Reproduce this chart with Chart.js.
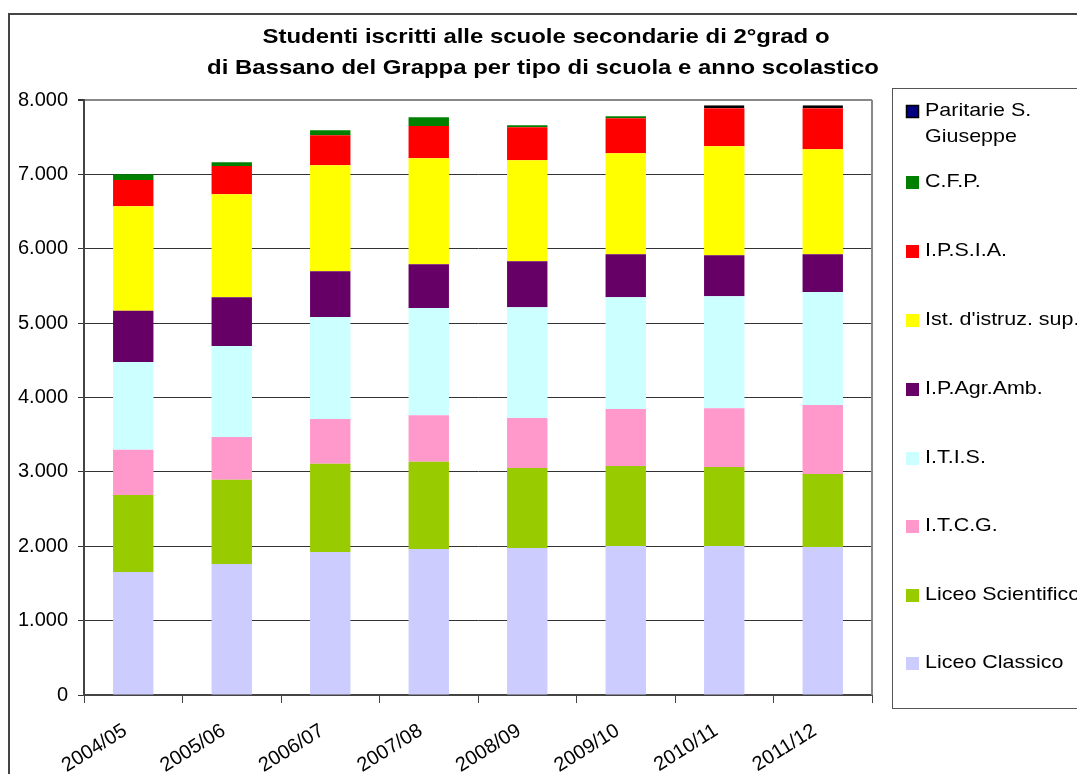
<!DOCTYPE html>
<html>
<head>
<meta charset="utf-8">
<script src="https://cdn.jsdelivr.net/npm/chart.js@4/dist/chart.umd.min.js"></script>
<style>
  body { margin: 0; background: #fff; }
</style>
</head>
<body>
<canvas id="myChart" width="1077" height="774"></canvas>
<script>
const years = ['2004/05', '2005/06', '2006/07', '2007/08', '2008/09', '2009/10', '2010/11', '2011/12'];
const liceoClassico = [1653, 1761, 1922, 1962, 1976, 2003, 2003, 1989];
const liceoScientifico = [1035, 1133, 1187, 1174, 1075, 1075, 1062, 981];
const itcg = [609, 574, 601, 627, 672, 766, 792, 928];
const itis = [1179, 1223, 1371, 1439, 1492, 1505, 1506, 1519];
const ipAgrAmb = [689, 658, 618, 591, 618, 578, 551, 510];
const istIstruz = [1408, 1385, 1425, 1425, 1358, 1358, 1465, 1412];
const ipsia = [353, 380, 403, 434, 443, 470, 511, 551];
const cfp = [77, 50, 67, 117, 27, 27, 0, 0];
const paritarie = [0, 0, 0, 0, 0, 0, 40, 40];
const yTicks = [0, 1000, 2000, 3000, 4000, 5000, 6000, 7000, 8000];
const titleLines = ['Studenti iscritti alle scuole secondarie di 2°grad o', 'di Bassano del Grappa per tipo di scuola e anno scolastico'];

const FONT = 'Arial, "Liberation Sans", sans-serif';

function fmt(v){
    return String(v).replace(/\B(?=(\d{3})+(?!\d))/g, '.');
}

// text a bit wider than the font gives, like the original export
function wideText(c, text, x, y, sx){
    c.save();
    c.translate(x, y);
    c.scale(sx, 1);
    c.fillText(text, 0, 0);
    c.restore();
}

// title, outer frame, right border and the boxed legend
const framePlugin = {
    id: 'frame',
    beforeDraw(chart){
        const c = chart.ctx;
        c.save();
        c.fillStyle = '#fff';
        c.fillRect(0, 0, chart.width, chart.height);
        c.strokeStyle = '#444';
        c.lineWidth = 2;
        c.strokeRect(9, 14, 1200, 900);
        c.fillStyle = '#000';
        c.font = 'bold 21px ' + FONT;
        c.textAlign = 'center';
        c.textBaseline = 'middle';
        wideText(c, titleLines[0], 546, 37, 1.14);
        wideText(c, titleLines[1], 543, 68, 1.14);
        c.restore();
    },
    afterDraw(chart){
        const c = chart.ctx;
        const a = chart.chartArea;
        c.save();
        c.strokeStyle = '#888';
        c.lineWidth = 2;
        c.beginPath();
        c.moveTo(a.right, a.top);
        c.lineTo(a.right, a.bottom);
        c.stroke();

        // legend box
        c.strokeStyle = '#555';
        c.lineWidth = 1;
        c.strokeRect(892.5, 88.5, 300, 620);
        c.font = '19px ' + FONT;
        c.textAlign = 'left';
        c.textBaseline = 'middle';
        const ds = chart.data.datasets.slice().reverse();
        const rows = [111, 182, 251, 320, 389, 458, 526, 595, 663];
        ds.forEach((d, i) => {
            const y = rows[i];
            c.fillStyle = d.backgroundColor;
            c.fillRect(906, y - 6, 13, 13);
            if (d.borderWidth) {
                c.strokeStyle = '#000';
                c.lineWidth = 1.5;
                c.strokeRect(906.5, y - 5.5, 12, 12);
            }
            c.fillStyle = '#000';
            d.label.split('\n').forEach((t, j) => wideText(c, t, 925, y + j * 26, 1.13));
        });
        c.restore();
    }
};

const ctx = document.getElementById('myChart').getContext('2d');
const myChart = new Chart(ctx, {
    type: 'bar',
    data: {
        labels: years,
        datasets: [
            { label: 'Liceo Classico', data: liceoClassico, backgroundColor: '#CCCCFF' },
            { label: 'Liceo Scientifico', data: liceoScientifico, backgroundColor: '#99CC00' },
            { label: 'I.T.C.G.', data: itcg, backgroundColor: '#FF99CC' },
            { label: 'I.T.I.S.', data: itis, backgroundColor: '#CCFFFF' },
            { label: 'I.P.Agr.Amb.', data: ipAgrAmb, backgroundColor: '#660066' },
            { label: "Ist. d'istruz. sup.", data: istIstruz, backgroundColor: '#FFFF00' },
            { label: 'I.P.S.I.A.', data: ipsia, backgroundColor: '#FF0000' },
            { label: 'C.F.P.', data: cfp, backgroundColor: '#008000' },
            { label: 'Paritarie S.\nGiuseppe', data: paritarie, backgroundColor: '#000080', borderColor: '#000', borderWidth: 2 }
        ]
    },
    options: {
        responsive: false,
        animation: false,
        layout: { padding: { top: 100, right: 205, left: 9, bottom: 0 } },
        datasets: {
            bar: { categoryPercentage: 1, barPercentage: 0.41, inflateAmount: 0, borderSkipped: false }
        },
        plugins: {
            legend: { display: false },
            title: { display: false },
            tooltip: { enabled: false }
        },
        scales: {
            x: {
                stacked: true,
                afterFit(scale){ scale.height = 79; },
                grid: { offset: true, drawOnChartArea: false, drawTicks: true, tickLength: 8, color: '#444' },
                border: { color: '#444', width: 2 },
                ticks: {
                    color: '#000',
                    font: { family: FONT, size: 20 },
                    minRotation: 32,
                    maxRotation: 32,
                    padding: 16,
                    labelOffset: -8
                }
            },
            y: {
                stacked: true,
                min: 0,
                max: 8000,
                afterFit(scale){ scale.width = 75; },
                afterBuildTicks(scale){ scale.ticks = yTicks.map(v => ({ value: v })); },
                grid: {
                    color: c => c.tick && c.tick.value === 8000 ? '#888' : '#333',
                    lineWidth: c => c.tick && c.tick.value === 8000 ? 2 : 1,
                    tickColor: '#333',
                    tickLength: 6
                },
                border: { color: '#444', width: 2 },
                ticks: {
                    color: '#000',
                    font: { family: FONT, size: 20 },
                    padding: 10,
                    callback: v => fmt(v)
                }
            }
        }
    },
    plugins: [framePlugin]
});
</script>
</body>
</html>
